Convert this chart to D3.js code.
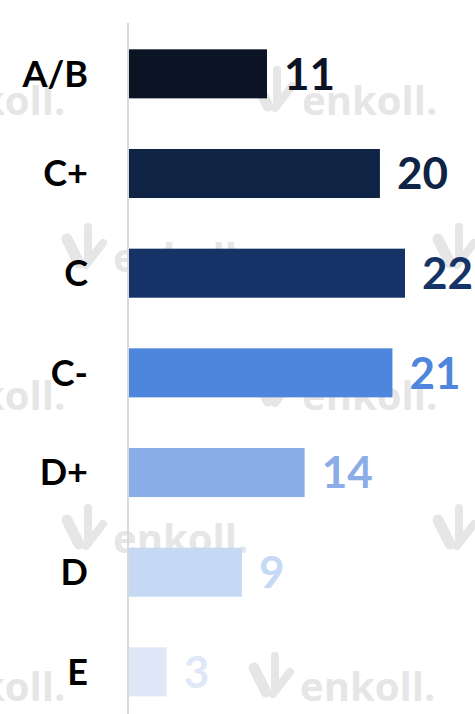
<!DOCTYPE html>
<html>
<head>
<meta charset="utf-8">
<script src="https://cdn.jsdelivr.net/npm/d3@7"></script>
<style>
  html, body { margin: 0; padding: 0; background: #fff; }
  svg { display: block; }
</style>
</head>
<body>
<div class="chart"></div>
<script>
const categories = ['A/B', 'C+', 'C', 'C-', 'D+', 'D', 'E'];
const values = [11, 20, 22, 21, 14, 9, 3];

const barColors = ['#0b1425', '#0f2344', '#153366', '#4e86dd', '#8aade8', '#c6d9f4', '#dee8f8'];

const width = 475;
const height = 714;
const axisX = 128;

const svg = d3.select('.chart').append('svg')
  .attr('width', width)
  .attr('height', height);

// watermark "enkoll." logos behind everything
const marks = [
  { x: -120, y: 115 }, { x: 252, y: 115 },
  { x: 63, y: 272 }, { x: 434, y: 272 },
  { x: -120, y: 410 }, { x: 252, y: 410 },
  { x: 63, y: 553 }, { x: 434, y: 553 },
  { x: -120, y: 701 }, { x: 250, y: 701 }
];
const wmColor = '#e6e6e6';
const wm = svg.append('g').attr('class', 'watermark');
const item = wm.selectAll('g')
  .data(marks)
  .enter()
  .append('g')
  .attr('transform', d => `translate(${d.x},${d.y})`);
item.append('path')
  .attr('d', 'M4,-33 L16,-9')
  .attr('stroke', wmColor)
  .attr('stroke-width', 11)
  .attr('stroke-linecap', 'round');
item.append('path')
  .attr('d', 'M25,-45 L25,-14 M23,-7 L40,-29')
  .attr('fill', 'none')
  .attr('stroke', wmColor)
  .attr('stroke-width', 8)
  .attr('stroke-linecap', 'round')
  .attr('stroke-linejoin', 'round');
item.append('text')
  .attr('x', 50)
  .attr('y', 0)
  .attr('font-family', '"Open Sans", sans-serif')
  .attr('font-style', 'normal')
  .attr('font-weight', 700)
  .attr('font-size', 40)
  .attr('fill', wmColor)
  .text('enkoll.');

const x = d3.scaleLinear()
  .domain([0, 22])
  .range([axisX + 1, 405]);

const y = d3.scaleBand()
  .domain(categories)
  .range([24, 721.7])
  .paddingInner(0.508)
  .paddingOuter(0.254);

const rows = categories.map((c, i) => ({ cat: c, val: values[i], color: barColors[i] }));

svg.append('g')
  .selectAll('rect')
  .data(rows)
  .enter()
  .append('rect')
  .attr('x', x(0))
  .attr('y', d => y(d.cat))
  .attr('width', d => x(d.val) - x(0))
  .attr('height', y.bandwidth())
  .style('fill', d => d.color);

// vertical axis line
svg.append('line')
  .attr('x1', axisX)
  .attr('x2', axisX)
  .attr('y1', 23)
  .attr('y2', height)
  .attr('stroke', '#d9d9d9')
  .attr('stroke-width', 2);

// category labels
svg.append('g')
  .selectAll('text')
  .data(rows)
  .enter()
  .append('text')
  .attr('x', 88)
  .attr('y', d => y(d.cat) + y.bandwidth() / 2)
  .attr('dy', '0.36em')
  .attr('text-anchor', 'end')
  .attr('font-family', 'Lato, sans-serif')
  .attr('font-weight', 700)
  .attr('font-size', 36)
  .attr('fill', '#000')
  .text(d => d.cat);

// value labels
svg.append('g')
  .selectAll('text')
  .data(rows)
  .enter()
  .append('text')
  .attr('x', d => x(d.val) + 17)
  .attr('y', d => y(d.cat) + y.bandwidth() / 2)
  .attr('dy', '0.36em')
  .attr('font-family', 'Lato, sans-serif')
  .attr('font-weight', 700)
  .attr('font-size', 44)
  .attr('fill', d => d.color)
  .text(d => d.val);
</script>
</body>
</html>
